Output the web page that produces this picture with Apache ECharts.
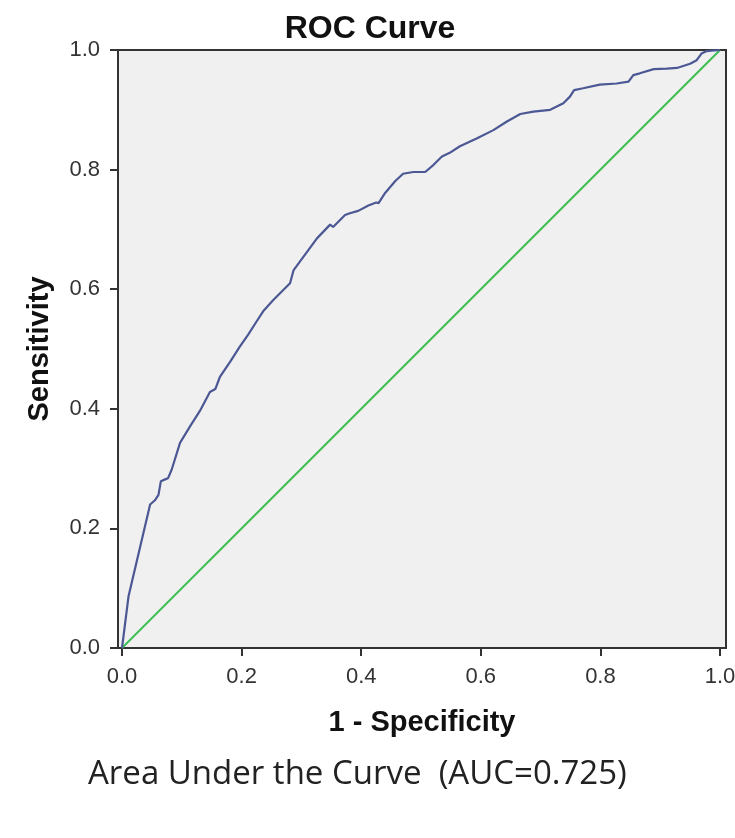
<!DOCTYPE html>
<html>
<head>
<meta charset="utf-8">
<script src="https://cdn.jsdelivr.net/npm/echarts@6/dist/echarts.min.js"></script>
<style>
html,body{margin:0;padding:0;background:#fff;}
#chart{width:735px;height:838px;}
</style>
</head>
<body>
<div id="chart"></div>
<script>
const fpr = [0, 0.011, 0.047, 0.055, 0.061, 0.065, 0.072, 0.077, 0.083, 0.097, 0.114, 0.130, 0.147, 0.156, 0.164, 0.181, 0.197, 0.211, 0.225, 0.236, 0.253, 0.281, 0.287, 0.326, 0.348, 0.353, 0.363, 0.373, 0.381, 0.395, 0.412, 0.425, 0.429, 0.440, 0.457, 0.470, 0.487, 0.507, 0.521, 0.535, 0.548, 0.565, 0.593, 0.621, 0.643, 0.666, 0.688, 0.716, 0.738, 0.749, 0.756, 0.771, 0.799, 0.827, 0.847, 0.855, 0.866, 0.889, 0.911, 0.928, 0.950, 0.961, 0.969, 0.977, 1.0];
const tpr = [0, 0.087, 0.240, 0.247, 0.256, 0.279, 0.282, 0.284, 0.298, 0.343, 0.371, 0.396, 0.428, 0.433, 0.454, 0.479, 0.504, 0.524, 0.546, 0.563, 0.582, 0.610, 0.632, 0.685, 0.708, 0.704, 0.714, 0.724, 0.727, 0.731, 0.740, 0.745, 0.744, 0.761, 0.781, 0.793, 0.796, 0.796, 0.808, 0.822, 0.828, 0.839, 0.852, 0.866, 0.880, 0.893, 0.897, 0.900, 0.911, 0.922, 0.933, 0.936, 0.942, 0.944, 0.947, 0.958, 0.961, 0.968, 0.969, 0.970, 0.977, 0.983, 0.994, 0.998, 1.0];
const refX = [0, 1];
const refY = [0, 1];
const tickValues = [0, 0.2, 0.4, 0.6, 0.8, 1.0];
const titleText = 'ROC Curve';
const xName = '1 - Specificity';
const yName = 'Sensitivity';
const aucText = 'Area Under the Curve  (AUC=0.725)';

const chart = echarts.init(document.getElementById('chart'));
const sans = 'Liberation Sans, Arial, sans-serif';
const labelStyle = {color: '#333', fontSize: 22, fontFamily: sans};
const nameStyle = {fontSize: 29, fontWeight: 'bold', color: '#111', fontFamily: sans};
chart.setOption({
  animation: false,
  title: {
    text: titleText, left: 365, top: 8, textAlign: 'center',
    textStyle: {fontSize: 32, fontWeight: 'bold', color: '#111', fontFamily: sans}
  },
  grid: {
    left: 118, right: 9, top: 50, bottom: 190,
    containLabel: false, outerBoundsMode: 'none',
    show: true, backgroundColor: '#f0f0f0', borderColor: '#333', borderWidth: 2
  },
  xAxis: {
    type: 'value', min: -0.0067, max: 1.010,
    name: xName, nameLocation: 'middle', nameGap: 60,
    nameTextStyle: nameStyle,
    axisLine: {show: true, onZero: false, lineStyle: {color: '#333', width: 2}},
    axisTick: {show: true, length: 8, customValues: tickValues, lineStyle: {color: '#333', width: 2}},
    axisLabel: Object.assign({customValues: tickValues, margin: 18, formatter: v => v.toFixed(1)}, labelStyle),
    splitLine: {show: false}
  },
  yAxis: {
    type: 'value', min: 0, max: 1,
    name: yName, nameLocation: 'middle', nameGap: 64, nameRotate: 90,
    nameTextStyle: nameStyle,
    axisLine: {show: true, onZero: false, lineStyle: {color: '#333', width: 2}},
    axisTick: {show: true, length: 8, customValues: tickValues, lineStyle: {color: '#333', width: 2}},
    axisLabel: Object.assign({customValues: tickValues, margin: 18, formatter: v => v.toFixed(1)}, labelStyle),
    splitLine: {show: false}
  },
  series: [
    {
      type: 'line', data: refX.map((x, i) => [x, refY[i]]),
      showSymbol: false, lineStyle: {color: '#3fbf55', width: 2}, z: 2
    },
    {
      type: 'line', data: fpr.map((x, i) => [x, tpr[i]]),
      showSymbol: false, lineStyle: {color: '#4b5894', width: 2.2}, z: 3
    }
  ],
  graphic: [{
    type: 'text', left: 88, top: 758,
    style: {text: aucText, fontSize: 33, fill: '#222', fontFamily: 'Open Sans, Noto Sans, sans-serif'}
  }]
});
</script>
</body>
</html>
